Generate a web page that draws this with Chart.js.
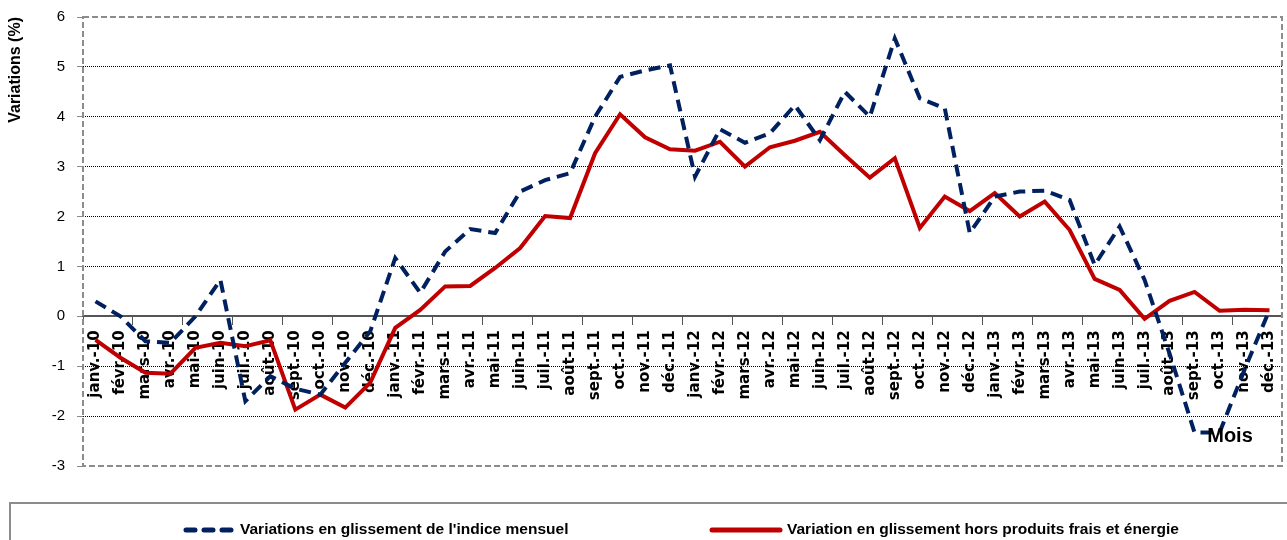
<!DOCTYPE html>
<html>
<head>
<meta charset="utf-8">
<script src="https://cdn.jsdelivr.net/npm/chart.js@4"></script>
<style>
  body { margin: 0; background: #fff; }
  #wrap { width: 1287px; height: 540px; }
</style>
</head>
<body>
<div id="wrap"><canvas id="lineChart"></canvas></div>
<script>
// mois (axe des x)
var labels = [
  'janv.-10', 'févr.-10', 'mars-10', 'avr.-10', 'mai-10', 'juin-10', 'juil.-10', 'août-10', 'sept.-10', 'oct.-10', 'nov.-10', 'déc.-10',
  'janv.-11', 'févr.-11', 'mars-11', 'avr.-11', 'mai-11', 'juin-11', 'juil.-11', 'août-11', 'sept.-11', 'oct.-11', 'nov.-11', 'déc.-11',
  'janv.-12', 'févr.-12', 'mars-12', 'avr.-12', 'mai-12', 'juin-12', 'juil.-12', 'août-12', 'sept.-12', 'oct.-12', 'nov.-12', 'déc.-12',
  'janv.-13', 'févr.-13', 'mars-13', 'avr.-13', 'mai-13', 'juin-13', 'juil.-13', 'août-13', 'sept.-13', 'oct.-13', 'nov.-13', 'déc.-13'
];

// glissement de l'indice mensuel
var indiceMensuel = [
  0.3, 0.0, -0.5, -0.53, 0.0, 0.73, -1.7, -1.2, -1.45, -1.57, -0.93, -0.3,
  1.17, 0.47, 1.3, 1.75, 1.67, 2.5, 2.73, 2.87, 4.0, 4.8, 4.93, 5.03,
  2.8, 3.75, 3.48, 3.67, 4.23, 3.53, 4.5, 4.0, 5.57, 4.37, 4.17, 1.67,
  2.4, 2.5, 2.52, 2.33, 1.03, 1.8, 0.73, -0.75, -2.33, -2.33, -1.07, 0.13
];

// glissement hors produits frais et energie
var horsFraisEnergie = [
  -0.47, -0.83, -1.13, -1.15, -0.63, -0.53, -0.6, -0.48, -1.87, -1.57, -1.83, -1.33,
  -0.23, 0.13, 0.6, 0.61, 0.97, 1.37, 2.01, 1.97, 3.27, 4.05, 3.59, 3.35,
  3.32, 3.5, 3.0, 3.39, 3.52, 3.7, 3.23, 2.78, 3.17, 1.77, 2.4, 2.11,
  2.47, 2.0, 2.3, 1.73, 0.75, 0.53, -0.05, 0.31, 0.49, 0.11, 0.13, 0.12
];

var yMin = -3;
var yMax = 6;

// cadre pointille, titre "Mois" et legende
var decorPlugin = {
  id: 'decor',
  afterDraw: function (chart) {
    var ctx = chart.ctx;
    var a = chart.chartArea;
    ctx.save();
    ctx.strokeStyle = '#8c8c8c';
    ctx.lineWidth = 2;
    ctx.setLineDash([6, 3]);
    ctx.strokeRect(a.left, a.top, a.right - a.left, a.bottom - a.top);
    ctx.setLineDash([]);

    ctx.fillStyle = '#000';
    ctx.font = 'bold 20px "Liberation Sans", Arial';
    ctx.textAlign = 'center';
    ctx.textBaseline = 'middle';
    ctx.fillText('Mois', 1230, 436);

    // legende
    ctx.strokeStyle = '#8c8c8c';
    ctx.lineWidth = 2;
    ctx.strokeRect(10, 503, 1290, 60);
    var items = [{x1: 186, x2: 233, tx: 240, dash: [9, 9]}, {x1: 712, x2: 780, tx: 787, dash: []}];
    ctx.font = 'bold 15.5px "Liberation Sans Narrow", "Liberation Sans"';
    ctx.textAlign = 'left';
    chart.data.datasets.forEach(function (ds, i) {
      var it = items[i];
      ctx.strokeStyle = ds.borderColor;
      ctx.lineWidth = 5;
      ctx.lineCap = 'round';
      ctx.setLineDash(it.dash);
      ctx.beginPath();
      ctx.moveTo(it.x1, 530);
      ctx.lineTo(it.x2, 530);
      ctx.stroke();
      ctx.setLineDash([]);
      ctx.fillStyle = '#000';
      ctx.fillText(ds.label, it.tx, 530);
    });
    ctx.restore();
  }
};

var ctx = document.getElementById('lineChart').getContext('2d');
new Chart(ctx, {
  type: 'line',
  data: {
    labels: labels,
    datasets: [{
      label: "Variations en glissement de l'indice mensuel",
      data: indiceMensuel,
      borderColor: '#002060',
      borderWidth: 4,
      borderDash: [12, 7],
      pointRadius: 0,
      tension: 0,
      fill: false
    }, {
      label: 'Variation en glissement hors produits frais et énergie',
      data: horsFraisEnergie,
      borderColor: '#c00000',
      borderWidth: 4,
      pointRadius: 0,
      tension: 0,
      fill: false
    }]
  },
  options: {
    responsive: true,
    maintainAspectRatio: false,
    animation: false,
    layout: {
      padding: { top: 17, right: 5, bottom: 74, left: 0 }
    },
    plugins: {
      legend: { display: false },
      tooltip: { enabled: false }
    },
    scales: {
      x: {
        type: 'category',
        position: { y: 0 },
        offset: true,
        afterFit: function (scale) {
          scale.paddingLeft = 0;
          scale.paddingRight = 0;
        },
        grid: {
          offset: true,
          drawOnChartArea: false,
          drawTicks: true,
          tickLength: 8,
          tickColor: function (c) { return c.index % 2 === 0 ? '#555' : 'rgba(0,0,0,0)'; }
        },
        border: { color: '#555', width: 2 },
        ticks: {
          autoSkip: false,
          maxRotation: 90,
          minRotation: 90,
          padding: 6,
          color: '#000',
          font: { family: '"DejaVu Sans"', size: 15, weight: 'bold' }
        }
      },
      y: {
        min: yMin,
        max: yMax,
        afterFit: function (scale) {
          scale.width = 83;
          scale.paddingTop = 0;
          scale.paddingBottom = 0;
        },
        ticks: {
          stepSize: 1,
          padding: 12,
          color: '#000',
          font: { family: '"Liberation Sans", Arial', size: 15 }
        },
        grid: {
          color: function (c) {
            var v = c.tick && c.tick.value;
            return (v === yMin || v === yMax || v === 0) ? 'rgba(0,0,0,0)' : '#000';
          },
          lineWidth: 1,
          tickLength: 6,
          tickColor: '#888'
        },
        border: { display: false, dash: [1, 1] },
        title: {
          display: true,
          text: 'Variations (%)',
          align: 'end',
          color: '#000',
          padding: { top: 6, bottom: 0 },
          font: { family: '"Liberation Sans", Arial', size: 16, weight: 'bold' }
        }
      }
    }
  },
  plugins: [decorPlugin]
});
</script>
</body>
</html>
